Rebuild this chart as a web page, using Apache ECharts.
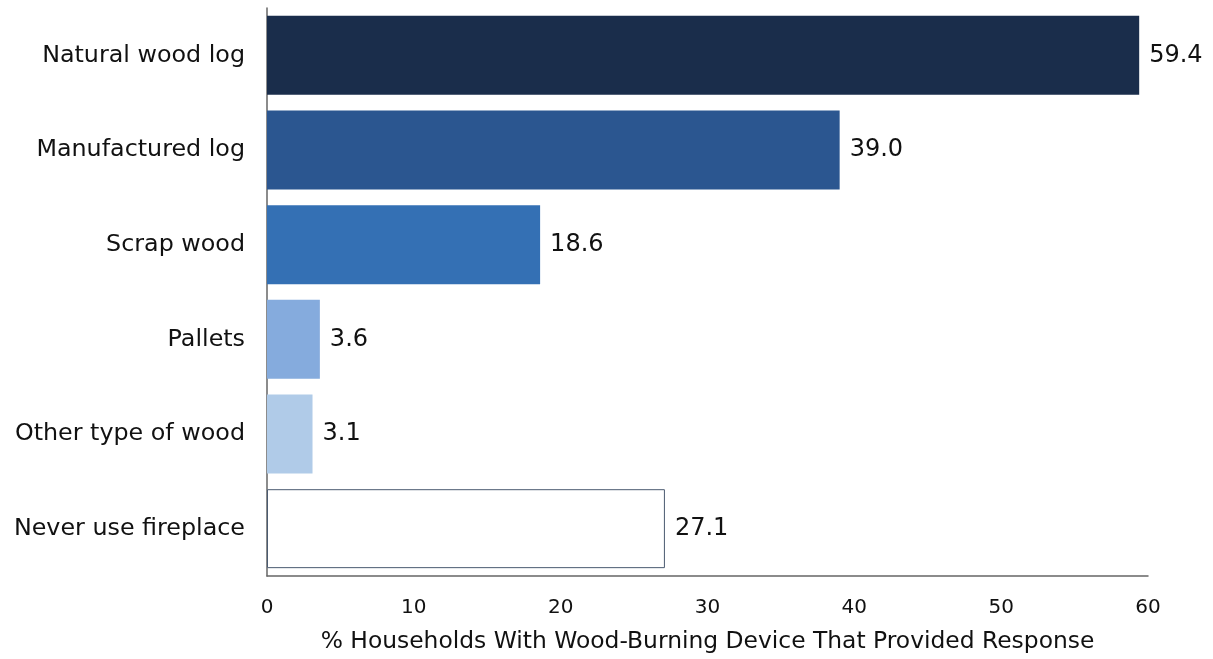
<!DOCTYPE html>
<html><head><meta charset="utf-8">
<script src="https://cdn.jsdelivr.net/npm/echarts@6/dist/echarts.min.js"></script>
<style>html,body{margin:0;padding:0;background:#fff}#c{width:1213px;height:659px}</style>
</head><body><div id="c"></div>
<script>
const categories = ["Natural wood log","Manufactured log","Scrap wood","Pallets","Other type of wood","Never use fireplace"];
const values = [59.4, 39.0, 18.6, 3.6, 3.1, 27.1];
const xTicks = [0,10,20,30,40,50,60];
const colors = ["#1a2d4b","#2b5690","#3470b4","#85abdd","#b0cbe8","#ffffff"];
const xTitle = "% Households With Wood-Burning Device That Provided Response";

const font = "DejaVu Sans";
const chart = echarts.init(document.getElementById('c'), null, {renderer:'canvas'});
chart.setOption({
  animation:false,
  grid:{left:267,right:65,top:8,bottom:83,containLabel:false},
  xAxis:{type:'value',min:xTicks[0],max:xTicks[xTicks.length-1],interval:10,
    axisLine:{show:true,lineStyle:{color:'#666',width:1.5}},axisTick:{show:false},splitLine:{show:false},
    axisLabel:{color:'#111',fontFamily:font,fontSize:20,margin:22},
    name:xTitle,nameLocation:'middle',nameGap:54,nameTextStyle:{color:'#111',fontFamily:font,fontSize:23.4}},
  yAxis:{type:'category',data:categories,inverse:true,
    axisLine:{show:true,lineStyle:{color:'#666',width:1.5}},axisTick:{show:false},
    axisLabel:{color:'#111',fontFamily:font,fontSize:23.8,margin:22}},
  series:[{type:'bar',barCategoryGap:'16.6%',
    data:values.map((v,i)=>({value:v,itemStyle:{color:colors[i],borderColor:i===5?'#4a5a70':colors[i],borderWidth:i===5?1:0}})),
    label:{show:true,position:'right',distance:10,color:'#111',fontFamily:font,fontSize:24,formatter:p=>p.value.toFixed(1)}
  }]
});
</script></body></html>
